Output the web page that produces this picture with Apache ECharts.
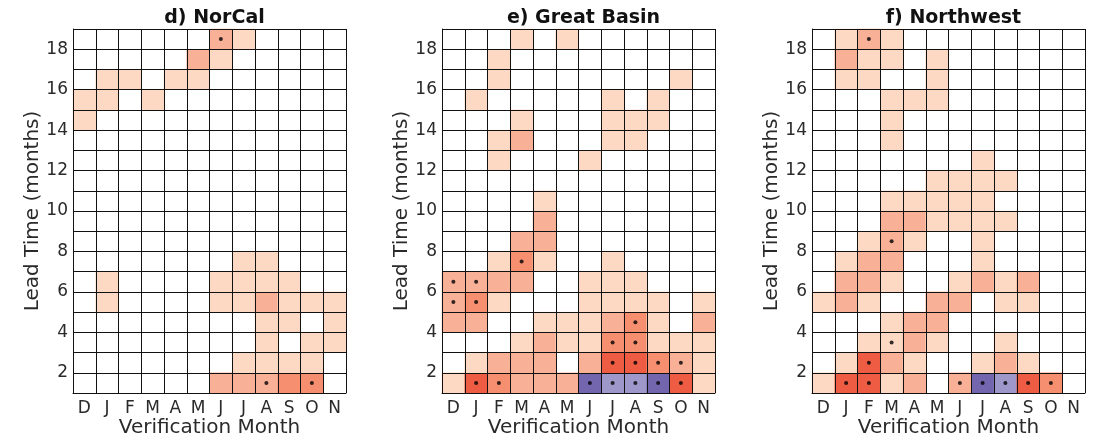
<!DOCTYPE html>
<html>
<head>
<meta charset="utf-8">
<script src="https://cdn.jsdelivr.net/npm/echarts@6/dist/echarts.min.js"></script>
<style>
  html, body { margin: 0; padding: 0; background: #fff; }
  #chart { width: 1104px; height: 438px; }
</style>
</head>
<body>
<div id="chart"></div>
<script>
// Verification months (columns) and lead times (rows, 1..18 months)
const months = ['D', 'J', 'F', 'M', 'A', 'M', 'J', 'J', 'A', 'S', 'O', 'N'];
const leads = Array.from({ length: 18 }, (_, i) => String(i + 1));
const panelTitles = ['d) NorCal', 'e) Great Basin', 'f) Northwest'];

// Skill-difference category per cell; row k is lead k+1, columns follow `months`.
// 0 = no difference, 1..4 = increasing positive, -1/-2 = negative.
const norcalLevels = [
  [0, 0, 0, 0, 0, 0, 2, 2, 2, 3, 3, 0],
  [0, 0, 0, 0, 0, 0, 0, 1, 1, 1, 1, 0],
  [0, 0, 0, 0, 0, 0, 0, 0, 1, 0, 1, 1],
  [0, 0, 0, 0, 0, 0, 0, 0, 1, 1, 0, 1],
  [0, 1, 0, 0, 0, 0, 1, 1, 2, 1, 1, 1],
  [0, 1, 0, 0, 0, 0, 1, 1, 1, 1, 0, 0],
  [0, 0, 0, 0, 0, 0, 0, 1, 1, 0, 0, 0],
  [0, 0, 0, 0, 0, 0, 0, 0, 0, 0, 0, 0],
  [0, 0, 0, 0, 0, 0, 0, 0, 0, 0, 0, 0],
  [0, 0, 0, 0, 0, 0, 0, 0, 0, 0, 0, 0],
  [0, 0, 0, 0, 0, 0, 0, 0, 0, 0, 0, 0],
  [0, 0, 0, 0, 0, 0, 0, 0, 0, 0, 0, 0],
  [0, 0, 0, 0, 0, 0, 0, 0, 0, 0, 0, 0],
  [1, 0, 0, 0, 0, 0, 0, 0, 0, 0, 0, 0],
  [1, 1, 0, 1, 0, 0, 0, 0, 0, 0, 0, 0],
  [0, 1, 1, 0, 1, 1, 0, 0, 0, 0, 0, 0],
  [0, 0, 0, 0, 0, 2, 1, 0, 0, 0, 0, 0],
  [0, 0, 0, 0, 0, 0, 2, 1, 0, 0, 0, 0]
];

const greatBasinLevels = [
  [1, 4, 3, 2, 2, 2, -2, -1, -1, -2, 4, 1],
  [0, 1, 2, 2, 2, 0, 2, 4, 4, 3, 2, 1],
  [0, 0, 0, 1, 2, 1, 1, 3, 3, 1, 1, 1],
  [2, 2, 0, 0, 1, 1, 1, 2, 3, 1, 0, 2],
  [2, 3, 1, 0, 0, 0, 1, 1, 1, 1, 0, 1],
  [2, 2, 2, 2, 0, 0, 1, 1, 1, 0, 0, 0],
  [0, 0, 1, 3, 1, 0, 0, 1, 0, 0, 0, 0],
  [0, 0, 0, 2, 2, 0, 0, 0, 0, 0, 0, 0],
  [0, 0, 0, 0, 2, 0, 0, 0, 0, 0, 0, 0],
  [0, 0, 0, 0, 1, 0, 0, 0, 0, 0, 0, 0],
  [0, 0, 0, 0, 0, 0, 0, 0, 0, 0, 0, 0],
  [0, 0, 1, 0, 0, 0, 1, 0, 0, 0, 0, 0],
  [0, 0, 1, 2, 0, 0, 0, 1, 1, 0, 0, 0],
  [0, 0, 0, 1, 0, 0, 0, 1, 1, 1, 0, 0],
  [0, 1, 0, 0, 0, 0, 0, 1, 0, 1, 0, 0],
  [0, 0, 1, 0, 0, 0, 0, 0, 0, 0, 1, 0],
  [0, 0, 1, 0, 0, 0, 0, 0, 0, 0, 0, 0],
  [0, 0, 0, 1, 0, 1, 0, 0, 0, 0, 0, 0]
];

const northwestLevels = [
  [1, 4, 4, 1, 2, 0, 2, -2, -1, 4, 3, 0],
  [0, 1, 4, 2, 1, 0, 0, 1, 2, 1, 0, 0],
  [0, 0, 1, 1, 2, 1, 0, 0, 1, 0, 0, 0],
  [0, 0, 0, 1, 2, 2, 0, 0, 0, 0, 0, 0],
  [1, 2, 1, 0, 0, 2, 2, 0, 1, 1, 0, 0],
  [0, 2, 2, 1, 0, 0, 1, 2, 1, 2, 0, 0],
  [0, 1, 2, 2, 0, 0, 0, 1, 0, 0, 0, 0],
  [0, 0, 1, 2, 1, 0, 0, 1, 0, 0, 0, 0],
  [0, 0, 0, 2, 2, 1, 1, 1, 1, 0, 0, 0],
  [0, 0, 0, 1, 1, 1, 1, 1, 0, 0, 0, 0],
  [0, 0, 0, 0, 0, 1, 1, 1, 1, 0, 0, 0],
  [0, 0, 0, 0, 0, 0, 0, 1, 0, 0, 0, 0],
  [0, 0, 0, 1, 0, 0, 0, 0, 0, 0, 0, 0],
  [0, 0, 0, 1, 0, 0, 0, 0, 0, 0, 0, 0],
  [0, 0, 0, 1, 1, 1, 0, 0, 0, 0, 0, 0],
  [0, 1, 1, 0, 0, 1, 0, 0, 0, 0, 0, 0],
  [0, 2, 1, 1, 0, 1, 0, 0, 0, 0, 0, 0],
  [0, 1, 2, 1, 0, 0, 0, 0, 0, 0, 0, 0]
];

// Significant cells: [month index, lead]
const norcalDots = [[8, 1], [10, 1], [6, 18]];
const greatBasinDots = [
  [1, 1], [2, 1], [6, 1], [7, 1], [8, 1], [9, 1], [10, 1],
  [7, 2], [8, 2], [9, 2], [10, 2],
  [7, 3], [8, 3],
  [8, 4],
  [0, 5], [1, 5],
  [0, 6], [1, 6],
  [3, 7]
];
const northwestDots = [
  [1, 1], [2, 1], [6, 1], [7, 1], [8, 1], [9, 1], [10, 1],
  [2, 2], [3, 3], [3, 8], [2, 18]
];

const yTickLabels = ['2', '4', '6', '8', '10', '12', '14', '16', '18'];

const levelColors = {
  '-2': '#7366ae',
  '-1': '#9d97ca',
  '1': '#fdd8c3',
  '2': '#f8b197',
  '3': '#f68f6f',
  '4': '#ee5c44'
};

const panels = [
  { title: panelTitles[0], levels: norcalLevels, dots: norcalDots },
  { title: panelTitles[1], levels: greatBasinLevels, dots: greatBasinDots },
  { title: panelTitles[2], levels: northwestLevels, dots: northwestDots }
];

const gridLefts = [73, 442, 812];
const gridTop = 29;
const gridWidth = 273;
const gridHeight = 364;
const FONT = 'DejaVu Sans';

const option = {
  animation: false,
  backgroundColor: '#fff',
  title: [],
  grid: [],
  xAxis: [],
  yAxis: [],
  visualMap: {
    type: 'piecewise',
    show: false,
    seriesIndex: [0, 2, 4],
    dimension: 2,
    pieces: Object.keys(levelColors).map(k => ({ value: Number(k), color: levelColors[k] }))
  },
  series: []
};

panels.forEach((p, i) => {
  const left = gridLefts[i];
  option.title.push({
    text: p.title,
    left: left + gridWidth / 2,
    top: 4,
    textAlign: 'center',
    textStyle: { fontFamily: FONT, fontSize: 19, fontWeight: 'bold', color: '#111' }
  });
  option.grid.push({
    left: left, top: gridTop, width: gridWidth, height: gridHeight,
    containLabel: false, outerBoundsMode: 'none'
  });

  option.xAxis.push({
    type: 'category',
    gridIndex: i,
    data: months,
    boundaryGap: true,
    z: 5,
    axisLine: { show: true, lineStyle: { color: '#111', width: 1 } },
    axisTick: { show: false },
    axisLabel: { fontFamily: FONT, fontSize: 17, color: '#2a2a2a', margin: 7, interval: 0 },
    splitLine: { show: true, interval: 0, lineStyle: { color: '#111', width: 1 } },
    name: 'Verification Month',
    nameLocation: 'middle',
    nameGap: 25,
    nameMoveOverlap: false,
    nameTextStyle: { fontFamily: FONT, fontSize: 20, color: '#2a2a2a' }
  });

  // Category axis carrying the cell rows and horizontal grid lines
  option.yAxis.push({
    type: 'category',
    gridIndex: i,
    data: leads,
    position: 'left',
    z: 5,
    axisLine: { show: false },
    axisTick: { show: false },
    axisLabel: { show: false },
    splitLine: { show: true, interval: 0, lineStyle: { color: '#111', width: 1 } }
  });
  // Numeric lead-time axis: row edges sit on integer months 1..19
  option.yAxis.push({
    type: 'value',
    gridIndex: i,
    position: 'left',
    min: 1,
    max: 19,
    interval: 1,
    z: 5,
    axisLine: { show: true, lineStyle: { color: '#111', width: 1 } },
    axisTick: { show: false },
    splitLine: { show: false },
    axisLabel: {
      fontFamily: FONT, fontSize: 17, color: '#2a2a2a', margin: 5,
      formatter: v => (yTickLabels.indexOf(String(v)) >= 0 ? String(v) : '')
    },
    name: 'Lead Time (months)',
    nameLocation: 'middle',
    nameRotate: 90,
    nameGap: 30,
    nameMoveOverlap: false,
    nameTextStyle: { fontFamily: FONT, fontSize: 20, color: '#2a2a2a' }
  });

  const cells = [];
  p.levels.forEach((row, r) => {
    row.forEach((lvl, c) => {
      if (lvl !== 0) cells.push([c, r, lvl]);
    });
  });

  option.series.push({
    type: 'heatmap',
    xAxisIndex: i,
    yAxisIndex: 2 * i,
    data: cells,
    z: 2,
    silent: true
  });
  option.series.push({
    type: 'scatter',
    xAxisIndex: i,
    yAxisIndex: 2 * i,
    data: p.dots.map(d => [d[0], d[1] - 1]),
    symbol: 'circle',
    symbolSize: 4,
    itemStyle: { color: '#000' },
    z: 10,
    silent: true
  });
});

const chart = echarts.init(document.getElementById('chart'), null, { renderer: 'canvas' });
chart.setOption(option);
</script>
</body>
</html>
